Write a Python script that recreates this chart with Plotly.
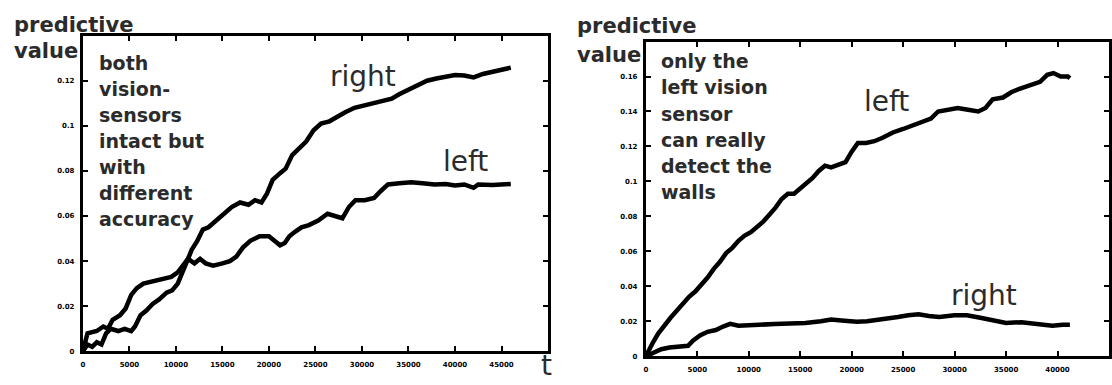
import plotly.graph_objects as go

W, H = 1112, 385

# ---- data: left panel (both vision sensors intact) ----
a_right_x = [0, 500, 1000, 1500, 2000, 2500, 3000, 3800, 4500, 5200, 5600, 6200, 6800, 7500, 8200, 9000, 9600,
             10200, 10700, 11200, 11700, 12300, 12900, 13500, 14300, 15100, 16000, 16900, 17800, 18500, 19200,
             19800, 20400, 21200, 21800, 22500, 23300, 24000, 24800, 25600, 26500, 27300, 28200, 29200, 30200,
             31200, 32200, 33200, 34000, 35000, 36000, 37000, 38000, 39000, 40000, 41000, 42000, 43000, 44000,
             45000, 46000]
a_right_y = [0, 0.003, 0.002, 0.004, 0.003, 0.008, 0.010, 0.009, 0.010, 0.009, 0.011, 0.016, 0.018, 0.021, 0.023,
             0.026, 0.027, 0.030, 0.035, 0.040, 0.045, 0.049, 0.054, 0.055, 0.058, 0.061, 0.064, 0.066, 0.065, 0.067,
             0.066, 0.070, 0.076, 0.079, 0.081, 0.087, 0.090, 0.093, 0.098, 0.101, 0.102, 0.104, 0.106, 0.108, 0.109,
             0.110, 0.111, 0.112, 0.114, 0.116, 0.118, 0.120, 0.121, 0.122, 0.1225, 0.1223, 0.1215, 0.123, 0.124,
             0.125, 0.1258]
a_left_x = [0, 500, 1500, 2200, 2700, 3200, 4000, 4600, 5200, 5800, 6500, 7500, 8500, 9500, 10200, 10800, 11300,
            12000, 12600, 13200, 14000, 15000, 15800, 16500, 17200, 18000, 19000, 20000, 20600, 21200, 21700,
            22200, 22800, 23500, 24300, 25300, 26300, 27200, 27900, 28600, 29300, 30300, 31300, 32000, 32800,
            34000, 35300, 36500, 37800, 39000, 40000, 41000, 42000, 42500, 44000, 46000]
a_left_y = [0, 0.008, 0.009, 0.011, 0.010, 0.014, 0.016, 0.019, 0.025, 0.028, 0.030, 0.031, 0.032, 0.033, 0.035,
            0.038, 0.041, 0.039, 0.041, 0.039, 0.038, 0.039, 0.040, 0.042, 0.046, 0.049, 0.051, 0.051, 0.049, 0.047,
            0.048, 0.051, 0.053, 0.055, 0.056, 0.058, 0.061, 0.060, 0.059, 0.064, 0.067, 0.067, 0.068, 0.071, 0.074,
            0.0745, 0.075, 0.0745, 0.074, 0.0742, 0.0735, 0.074, 0.0725, 0.074, 0.0738, 0.0742]

# ---- data: right panel (only left sensor detects walls) ----
b_left_x = [0, 300, 700, 1200, 1800, 2400, 3000, 3600, 4200, 4800, 5400, 6000, 6600, 7200, 7800, 8400, 9000, 9600,
            10200, 10800, 11400, 12000, 12600, 13200, 13800, 14400, 15000, 15600, 16200, 16800, 17400, 18000,
            18800, 19400, 20000, 20600, 21400, 22200, 23000, 24000, 25000, 26000, 27000, 27700, 28400, 29300,
            30300, 31300, 32300, 33000, 33700, 34700, 35500, 36300, 37300, 38300, 39000, 39600, 40300, 41000, 41200]
b_left_y = [0, 0.004, 0.008, 0.013, 0.018, 0.022, 0.026, 0.030, 0.034, 0.037, 0.041, 0.045, 0.050, 0.054, 0.059,
            0.062, 0.066, 0.069, 0.071, 0.074, 0.077, 0.081, 0.085, 0.090, 0.093, 0.093, 0.096, 0.099, 0.102, 0.106,
            0.109, 0.108, 0.110, 0.111, 0.117, 0.122, 0.122, 0.123, 0.125, 0.128, 0.130, 0.132, 0.134, 0.136, 0.140,
            0.141, 0.142, 0.141, 0.140, 0.142, 0.147, 0.148, 0.151, 0.153, 0.155, 0.157, 0.161, 0.162, 0.160, 0.160,
            0.159]
b_right_x = [0, 700, 1500, 2300, 3200, 4100, 4600, 5300, 6000, 6800, 7500, 8200, 9000, 10000, 11000, 12500, 14000,
             15500, 17000, 18000, 19000, 20500, 21500, 23000, 24500, 25500, 26500, 27500, 28500, 30000, 31200,
             32500, 33500, 35000, 36500, 37500, 38500, 39500, 40500, 41200]
b_right_y = [0, 0.002, 0.004, 0.005, 0.0055, 0.006, 0.009, 0.012, 0.014, 0.015, 0.017, 0.0185, 0.0175, 0.0175,
             0.018, 0.0185, 0.0185, 0.019, 0.020, 0.021, 0.0205, 0.0198, 0.020, 0.021, 0.0225, 0.0235, 0.024,
             0.023, 0.0225, 0.0235, 0.0235, 0.022, 0.021, 0.019, 0.0195, 0.019, 0.018, 0.0175, 0.018, 0.018]

a_xticks = [0, 5000, 10000, 15000, 20000, 25000, 30000, 35000, 40000, 45000]
a_yticks = [0, 0.02, 0.04, 0.06, 0.08, 0.1, 0.12]
b_xticks = [0, 5000, 10000, 15000, 20000, 25000, 30000, 35000, 40000, 45000]
b_yticks = [0, 0.02, 0.04, 0.06, 0.08, 0.1, 0.12, 0.14, 0.16]

a_note_lines = ["both", "vision-", "sensors", "intact but", "with", "different", "accuracy"]
b_note_lines = ["only the", "left vision", "sensor", "can really", "detect the", "walls"]

TXT = "#2b2b2b"
FONT = "DejaVu Sans"

def px(x):
    return x / W

def py(y):
    return 1 - y / H

fig = go.Figure()
line = dict(color="black", width=4.5)
fig.add_trace(go.Scatter(x=a_right_x, y=a_right_y, mode="lines", line=line, xaxis="x", yaxis="y"))
fig.add_trace(go.Scatter(x=a_left_x, y=a_left_y, mode="lines", line=line, xaxis="x", yaxis="y"))
fig.add_trace(go.Scatter(x=b_left_x, y=b_left_y, mode="lines", line=line, xaxis="x2", yaxis="y2"))
fig.add_trace(go.Scatter(x=b_right_x, y=b_right_y, mode="lines", line=line, xaxis="x2", yaxis="y2"))

def ax(domain, rng, ticks, anchor, labels):
    return dict(domain=domain, range=rng, anchor=anchor, showgrid=False, zeroline=False,
                showline=True, linecolor="black", linewidth=3, mirror="ticks",
                ticks="inside", ticklen=5, tickwidth=2, tickcolor="black",
                tickvals=ticks, ticktext=labels, ticklabelstandoff=4,
                tickfont=dict(family="DejaVu Sans", size=7, color="black", weight="bold"))

fig.update_layout(
    width=W, height=H, autosize=False,
    margin=dict(l=0, r=0, t=0, b=0),
    paper_bgcolor="white", plot_bgcolor="white", showlegend=False,
    xaxis=ax([px(81), px(547)], [0, 50000], a_xticks, "y", [str(v) for v in a_xticks]),
    yaxis=ax([py(355), py(36)], [0, 0.14], a_yticks, "x", [str(v) for v in a_yticks]),
    xaxis2=ax([px(645), px(1109)], [0, 45000], b_xticks, "y2", [str(v) for v in b_xticks]),
    yaxis2=ax([py(360), py(42)], [0, 0.18], b_yticks, "x2", [str(v) for v in b_yticks]),
)

def note(text, x, y, size, bold=False, color=TXT):
    fig.add_annotation(text=text, x=px(x), y=py(y), xref="paper", yref="paper", showarrow=False,
                       xanchor="left", yanchor="middle", align="left",
                       font=dict(family=FONT, size=size, color=color,
                                 weight="bold" if bold else "normal"))

note("predictive", 10, 25, 21, bold=True)
note("value", 10, 52, 21, bold=True)
for i, t in enumerate(a_note_lines):
    note(t, 95, 64 + i * 26.3, 19, bold=True)
note("right", 327, 77, 28)
note("left", 440, 163, 28)
note("t", 538, 369, 28)

note("predictive", 574, 26, 21, bold=True)
note("value", 574, 56, 21, bold=True)
for i, t in enumerate(b_note_lines):
    note(t, 658, 62 + i * 26.4, 19, bold=True)
note("left", 862, 103, 28)
note("right", 949, 299, 28)

fig.write_html("out.html", config={"displayModeBar": False},
               post_script="document.body.style.margin='0';document.body.style.overflow='hidden';")
